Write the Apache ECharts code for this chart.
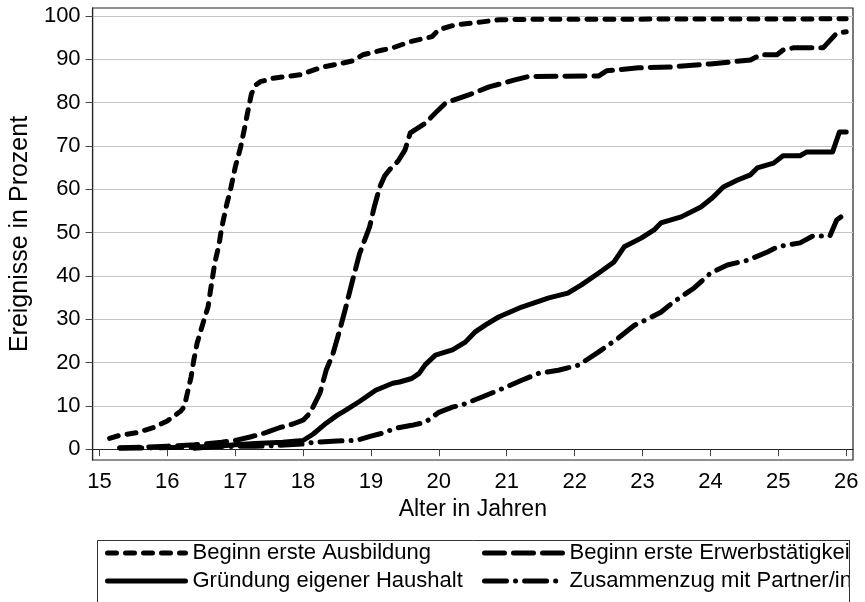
<!DOCTYPE html>
<html>
<head>
<meta charset="utf-8">
<script src="https://cdn.jsdelivr.net/npm/echarts@6/dist/echarts.min.js"></script>
<style>html,body{margin:0;padding:0;background:#fff}#c{width:865px;height:602px}</style>
</head>
<body>
<div id="c"></div>
<script>
var seriesNames = ['Beginn erste Ausbildung', 'Beginn erste Erwerbstätigkeit', 'Gründung eigener Haushalt', 'Zusammenzug mit Partner/in'];
var xTicks = [15, 16, 17, 18, 19, 20, 21, 22, 23, 24, 25, 26];
var yTicks = [0, 10, 20, 30, 40, 50, 60, 70, 80, 90, 100];

var ausbildung = [[15.15,2.5],[15.3,3.2],[15.55,3.8],[15.8,5.0],[16.0,6.5],[16.2,8.8],[16.25,9.8],[16.35,16.6],[16.39,20.5],[16.44,24.5],[16.54,29.8],[16.6,32.8],[16.65,38],[16.7,43],[16.76,47],[16.8,51],[16.88,56.8],[16.93,59.8],[17.0,65],[17.08,69.7],[17.15,75],[17.2,79],[17.24,82],[17.3,84],[17.37,84.8],[17.56,85.6],[17.71,85.9],[17.96,86.4],[18.29,88.2],[18.5,88.8],[18.73,89.6],[18.88,91],[19.17,92.1],[19.32,92.6],[19.57,94],[19.9,95.2],[20.0,96.8],[20.24,97.9],[20.64,98.6],[20.89,99.1],[21.5,99.2],[26.0,99.3]];
var erwerb = [[15.3,0.3],[15.7,0.5],[16.0,0.7],[16.4,1.0],[16.8,1.6],[17.0,2.0],[17.22,2.8],[17.45,3.8],[17.66,5],[17.85,5.8],[18.0,6.7],[18.1,8.3],[18.25,13],[18.34,18.2],[18.44,22],[18.54,27.5],[18.63,32.8],[18.73,39],[18.83,45],[18.98,51.3],[19.05,56],[19.13,60.5],[19.2,63],[19.27,64.4],[19.4,66.5],[19.5,69],[19.58,73],[19.8,75.2],[19.95,77.6],[20.1,79.9],[20.45,81.8],[20.74,83.6],[21.12,85.2],[21.32,86],[22.35,86.1],[22.47,87.3],[22.94,88],[23.42,88.2],[24.0,88.9],[24.59,89.8],[24.74,91],[24.98,91],[25.07,92.1],[25.22,92.6],[25.66,92.6],[25.86,96.0],[26.0,96.3]];
var haushalt = [[16.4,0.2],[16.7,0.6],[17.0,1.0],[17.3,1.3],[17.7,1.6],[18.0,2.0],[18.15,3.5],[18.34,6.0],[18.5,7.8],[18.63,9.0],[18.83,11],[19.07,13.6],[19.32,15.2],[19.42,15.5],[19.6,16.3],[19.71,17.5],[19.8,19.5],[19.95,21.7],[20.2,22.9],[20.39,24.7],[20.53,27],[20.7,28.8],[20.88,30.5],[21.22,32.8],[21.62,34.9],[21.9,36],[22.1,37.9],[22.35,40.6],[22.58,43.2],[22.73,46.7],[22.98,48.7],[23.17,50.6],[23.27,52.2],[23.57,53.6],[23.86,55.9],[24.03,58],[24.19,60.5],[24.4,62.1],[24.59,63.3],[24.69,64.9],[24.93,66],[25.07,67.7],[25.32,67.7],[25.42,68.6],[25.8,68.6],[25.9,73.2],[26.0,73.2]];
var partner = [[15.3,0.2],[15.8,0.3],[16.3,0.5],[16.8,0.6],[17.3,0.7],[17.56,0.8],[18.0,1.2],[18.12,1.5],[18.5,1.9],[18.78,2.0],[19.0,3.0],[19.17,3.7],[19.36,4.8],[19.6,5.5],[19.8,6.2],[20.0,8.5],[20.2,9.7],[20.34,10.2],[20.6,11.8],[20.88,13.6],[21.22,15.9],[21.47,17.5],[21.76,18.2],[22.06,19.4],[22.35,22.4],[22.64,25.6],[22.88,28.6],[22.98,29.3],[23.27,31.6],[23.46,34],[23.76,37.2],[24.0,40.6],[24.25,42.5],[24.55,43.6],[24.84,45.5],[24.99,46.7],[25.32,47.6],[25.51,49.2],[25.76,49.2],[25.86,52.9],[26.0,54.5]];

var FONT = '"Liberation Sans", Arial, sans-serif';
var chart = echarts.init(document.getElementById('c'), null, {renderer: 'canvas'});

function lineSeries(name, data, dash) {
  return {
    name: name, type: 'line', data: data, symbol: 'none', smooth: false, clip: false,
    lineStyle: {color: '#000', width: 5, type: dash, cap: 'round', join: 'round'},
    itemStyle: {color: '#000'},
    emphasis: {disabled: true}
  };
}

var legendCommon = {
  orient: 'vertical', top: 537, itemWidth: 78, itemHeight: 14, itemGap: 6,
  selectedMode: false,
  itemStyle: {opacity: 0},
  textStyle: {fontFamily: FONT, fontSize: 22, color: '#000', lineHeight: 22, padding: [0,0,0,2]},
  lineStyle: {width: 5, cap: 'round'}
};

chart.setOption({
  animation: false,
  backgroundColor: '#fff',
  grid: {left: 88, right: 12, top: 8, bottom: 142, show: true, borderColor: '#222', borderWidth: 1.2, containLabel: false},
  xAxis: {
    type: 'value', min: 14.9, max: 26.1,
    name: 'Alter in Jahren', nameLocation: 'middle', nameGap: 24,
    nameTextStyle: {fontFamily: FONT, fontSize: 23, color: '#000'},
    axisLine: {show: true, lineStyle: {color: '#222', width: 1.2}},
    axisTick: {show: true, length: 7, lineStyle: {color: '#444', width: 1}, customValues: xTicks},
    axisLabel: {fontFamily: FONT, fontSize: 22, color: '#000', margin: 11, customValues: xTicks},
    splitLine: {show: false}
  },
  yAxis: {
    type: 'value', min: -2.5, max: 101.8,
    name: 'Ereignisse in Prozent', nameLocation: 'middle', nameGap: 50, nameRotate: 90,
    nameTextStyle: {fontFamily: FONT, fontSize: 25, color: '#000'},
    axisLine: {show: true, lineStyle: {color: '#222', width: 1.2}},
    axisTick: {show: true, length: 7, lineStyle: {color: '#444', width: 1}, customValues: yTicks},
    axisLabel: {fontFamily: FONT, fontSize: 22, color: '#000', margin: 12, customValues: yTicks},
    splitLine: {show: true, lineStyle: {color: '#c4c4c4', width: 1.2}}
  },
  legend: [
    Object.assign({}, legendCommon, {left: 100, data: [seriesNames[0], seriesNames[2]]}),
    Object.assign({}, legendCommon, {left: 477, data: [seriesNames[1], seriesNames[3]]})
  ],
  graphic: [{
    type: 'rect', left: 97, top: 540, z: -1,
    shape: {width: 752, height: 80},
    style: {fill: '#fff', stroke: '#333', lineWidth: 1}
  }, {
    type: 'rect', left: 849, top: 541, z: 100,
    shape: {width: 20, height: 70},
    style: {fill: '#fff', stroke: null}
  }, {
    type: 'line', z: 101,
    shape: {x1: 849.5, y1: 540, x2: 849.5, y2: 610},
    style: {stroke: '#333', lineWidth: 1}
  }],
  series: [
    lineSeries(seriesNames[0], ausbildung, [9, 9]),
    lineSeries(seriesNames[1], erwerb, [20, 9]),
    lineSeries(seriesNames[2], haushalt, 'solid'),
    lineSeries(seriesNames[3], partner, [22, 9, 0.1, 9])
  ]
});
</script>
</body>
</html>
